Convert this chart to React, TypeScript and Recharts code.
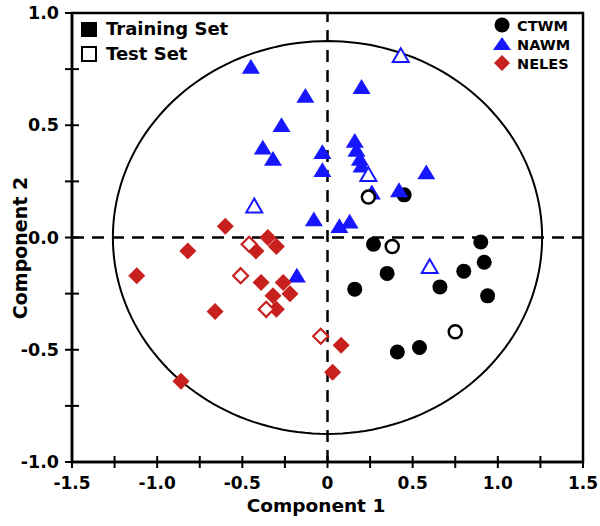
import React from 'react';
import { ScatterChart, Scatter, XAxis, YAxis, ReferenceLine, ReferenceArea } from 'recharts';

// component scores, [component 1, component 2]
const CTWM_TRAIN = [
    [0.45, 0.19], [0.27, -0.03], [0.90, -0.02], [0.92, -0.11], [0.80, -0.15], [0.35, -0.16],
    [0.66, -0.22], [0.16, -0.23], [0.94, -0.26], [0.54, -0.49], [0.41, -0.51],
];
const CTWM_TEST = [[0.24, 0.18], [0.38, -0.04], [0.75, -0.42]];

const NAWM_TRAIN = [
    [-0.45, 0.76], [-0.27, 0.50], [-0.38, 0.40], [-0.32, 0.35], [-0.13, 0.63], [0.20, 0.67],
    [0.16, 0.43], [0.17, 0.39], [0.19, 0.35], [0.20, 0.32], [-0.03, 0.38], [-0.03, 0.30],
    [0.58, 0.29], [0.26, 0.20], [0.42, 0.21], [-0.08, 0.08], [0.07, 0.05], [0.13, 0.07],
    [-0.18, -0.17],
];
const NAWM_TEST = [[0.43, 0.81], [-0.43, 0.14], [0.24, 0.28], [0.60, -0.13]];

const NELES_TRAIN = [
    [-0.60, 0.05], [-0.82, -0.06], [-1.12, -0.17], [-0.66, -0.33], [-0.86, -0.64], [-0.35, 0.00],
    [-0.42, -0.06], [-0.30, -0.04], [-0.39, -0.20], [-0.26, -0.20], [-0.22, -0.25], [-0.32, -0.26],
    [-0.30, -0.32], [0.08, -0.48], [0.03, -0.60],
];
const NELES_TEST = [[-0.46, -0.03], [-0.51, -0.17], [-0.36, -0.32], [-0.04, -0.44]];

const X_TICKS = [-1.5, -1.25, -1, -0.75, -0.5, -0.25, 0, 0.25, 0.5, 0.75, 1, 1.25, 1.5];
const Y_TICKS = [-1, -0.75, -0.5, -0.25, 0, 0.25, 0.5, 0.75, 1];

// confidence ellipse semi-axes (component units)
const ELLIPSE_RX = 1.26;
const ELLIPSE_RY = 0.875;

const toPoints = (arr: number[][]) => arr.map(([x, y]) => ({ x, y }));

const ellipse = Array.from({ length: 181 }, (_, i) => {
    const t = (i / 180) * Math.PI * 2;
    return { x: ELLIPSE_RX * Math.cos(t), y: ELLIPSE_RY * Math.sin(t) };
});

const FONT = '"DejaVu Sans", Arial, sans-serif';
const BLUE = '#1717ff';
const RED = '#c81f1f';

const isMajor = (v: number) => Math.abs(v * 2 - Math.round(v * 2)) < 1e-6;

const XTick = ({ x, y, payload }: any) => {
    const v = payload.value;
    return (
        <g>
            <line x1={x} x2={x} y1={y - 6} y2={y + 6} stroke="#000" strokeWidth={2} />
            {isMajor(v) && (
                <text x={x} y={y + 27} textAnchor="middle" fontFamily={FONT} fontWeight="bold" fontSize={17} fill="#000">
                    {v === 0 ? '0' : v.toFixed(1)}
                </text>
            )}
        </g>
    );
};

const YTick = ({ x, y, payload }: any) => {
    const v = payload.value;
    return (
        <g>
            <line x1={x - 7} x2={x + 7} y1={y} y2={y} stroke="#000" strokeWidth={2} />
            {isMajor(v) && (
                <text x={x - 13} y={y + 6} textAnchor="end" fontFamily={FONT} fontWeight="bold" fontSize={17.5} fill="#000">
                    {v.toFixed(1)}
                </text>
            )}
        </g>
    );
};

const circle = (open: boolean) => (p: any) =>
    open
        ? <circle cx={p.cx} cy={p.cy} r={6.5} fill="#fff" stroke="#000" strokeWidth={2.5} />
        : <circle cx={p.cx} cy={p.cy} r={7.5} fill="#000" />;

const triangle = (open: boolean) => (p: any) => {
    const h = open ? 7.5 : 8;
    const w = open ? 8 : 9;
    const pts = `${p.cx},${p.cy - h} ${p.cx + w},${p.cy + h * 0.85} ${p.cx - w},${p.cy + h * 0.85}`;
    return open
        ? <polygon points={pts} fill="#fff" stroke={BLUE} strokeWidth={2} />
        : <polygon points={pts} fill={BLUE} />;
};

const diamond = (open: boolean) => (p: any) => {
    const s = open ? 7.5 : 8.5;
    const pts = `${p.cx},${p.cy - s} ${p.cx + s},${p.cy} ${p.cx},${p.cy + s} ${p.cx - s},${p.cy}`;
    return open
        ? <polygon points={pts} fill="#fff" stroke={RED} strokeWidth={2.2} />
        : <polygon points={pts} fill={RED} />;
};

const Overlay = () => (
    <svg width={600} height={526} style={{ position: 'absolute', left: 0, top: 0, pointerEvents: 'none' }}>
        <g fontFamily={FONT} fontWeight="bold" fill="#000">
            <rect x={81} y={22} width={16} height={15} fill="#000" />
            <text x={106} y={35} fontSize={18}>Training Set</text>
            <rect x={82} y={47} width={14} height={14} fill="#fff" stroke="#000" strokeWidth={2} />
            <text x={106} y={60} fontSize={18}>Test Set</text>

            <circle cx={502} cy={25} r={7.5} fill="#000" />
            <text x={517} y={31} fontSize={14.5}>CTWM</text>
            <polygon points="502,37 511,50 493,50" fill={BLUE} />
            <text x={517} y={50} fontSize={14.5}>NAWM</text>
            <polygon points="502,55 510,63 502,71 494,63" fill={RED} />
            <text x={517} y={69} fontSize={14.5}>NELES</text>

            <text x={316} y={512} fontSize={18.5} textAnchor="middle">Component 1</text>
            <text x={27} y={248} fontSize={19} textAnchor="middle" transform="rotate(-90 27 248)">Component 2</text>
        </g>
    </svg>
);

export default function App() {
    return (
        <div style={{ position: 'absolute', left: 0, top: 0, width: 600, height: 526, background: '#fff' }}>
            <ScatterChart width={600} height={526} margin={{ top: 13, right: 17, left: 0, bottom: 0 }}>
                <XAxis
                    type="number"
                    dataKey="x"
                    domain={[-1.5, 1.5]}
                    ticks={X_TICKS}
                    interval={0}
                    height={64}
                    tickSize={0}
                    tickMargin={0}
                    tickLine={false}
                    axisLine={{ stroke: '#000', strokeWidth: 2.5 }}
                    tick={<XTick />}
                />
                <YAxis
                    type="number"
                    dataKey="y"
                    domain={[-1, 1]}
                    ticks={Y_TICKS}
                    interval={0}
                    width={72}
                    tickSize={0}
                    tickMargin={0}
                    tickLine={false}
                    axisLine={{ stroke: '#000', strokeWidth: 2.5 }}
                    tick={<YTick />}
                />
                <ReferenceArea x1={-1.5} x2={1.5} y1={-1} y2={1} fill="none" fillOpacity={0} stroke="#000" strokeWidth={2.5} />
                <ReferenceLine x={0} stroke="#000" strokeWidth={2.5} strokeDasharray="12 8" />
                <ReferenceLine y={0} stroke="#000" strokeWidth={2.5} strokeDasharray="12 8" />
                <Scatter
                    data={ellipse}
                    line={{ stroke: '#000', strokeWidth: 2 }}
                    lineType="joint"
                    shape={() => <g />}
                    legendType="none"
                    isAnimationActive={false}
                />
                <Scatter data={toPoints(CTWM_TRAIN)} shape={circle(false)} isAnimationActive={false} />
                <Scatter data={toPoints(NAWM_TRAIN)} shape={triangle(false)} isAnimationActive={false} />
                <Scatter data={toPoints(NELES_TRAIN)} shape={diamond(false)} isAnimationActive={false} />
                <Scatter data={toPoints(CTWM_TEST)} shape={circle(true)} isAnimationActive={false} />
                <Scatter data={toPoints(NAWM_TEST)} shape={triangle(true)} isAnimationActive={false} />
                <Scatter data={toPoints(NELES_TEST)} shape={diamond(true)} isAnimationActive={false} />
            </ScatterChart>
            <Overlay />
        </div>
    );
}
